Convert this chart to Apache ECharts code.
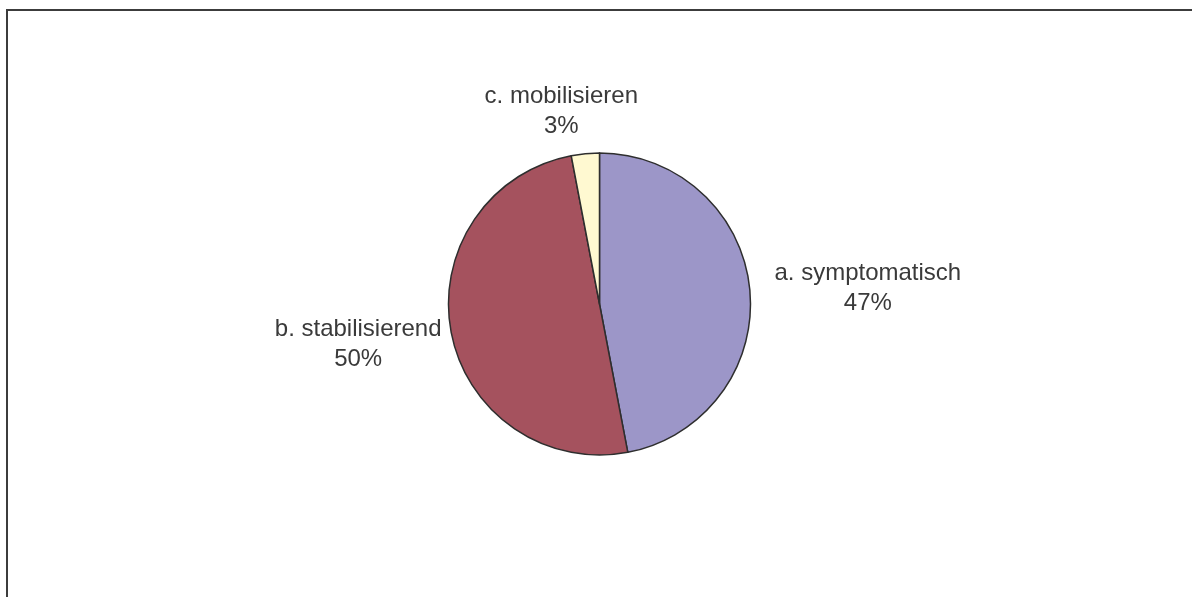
<!DOCTYPE html>
<html>
<head>
<meta charset="utf-8">
<title>Anteile</title>
<script src="https://cdn.jsdelivr.net/npm/echarts@6/dist/echarts.min.js"></script>
<style>
  html, body { margin: 0; padding: 0; background: #ffffff; }
  #chart { width: 1192px; height: 597px; }
</style>
</head>
<body>
<div id="chart"></div>
<script>
// Categories and their shares (percent)
const categories = ['a. symptomatisch', 'b. stabilisierend', 'c. mobilisieren'];
const shares = [47, 50, 3];

// Slice colours, in category order
const sliceColors = ['#9C96C8', '#A5525E', '#FFF9D1'];

// Fine placement of each label relative to its default outside anchor
const labelShift = [
  [113, -1],
  [-88, 12],
  [-19, -42]
];

const chart = echarts.init(document.getElementById('chart'), null, { renderer: 'canvas' });

chart.setOption({
  backgroundColor: '#ffffff',
  animation: false,
  graphic: [{
    type: 'rect',
    silent: true,
    shape: { x: 7, y: 10, width: 1300, height: 700 },
    style: { fill: 'none', stroke: '#3c3c3c', lineWidth: 2 }
  }],
  series: [{
    type: 'pie',
    center: [599.5, 304],
    radius: 151,
    startAngle: 90,
    clockwise: true,
    avoidLabelOverlap: false,
    itemStyle: { borderColor: '#2e2e2e', borderWidth: 1.5 },
    label: {
      show: true,
      position: 'outside',
      formatter: '{b}\n{d}%',
      fontFamily: '"Liberation Sans", Arial, sans-serif',
      fontSize: 24,
      lineHeight: 30,
      color: '#3a3a3a'
    },
    labelLine: { show: false, length: 0, length2: 0 },
    labelLayout: function (params) {
      const s = labelShift[params.dataIndex];
      return { align: 'center', dx: s[0], dy: s[1] };
    },
    emphasis: { disabled: true },
    data: categories.map((name, i) => ({
      name: name,
      value: shares[i],
      itemStyle: { color: sliceColors[i] }
    }))
  }]
});
</script>
</body>
</html>
